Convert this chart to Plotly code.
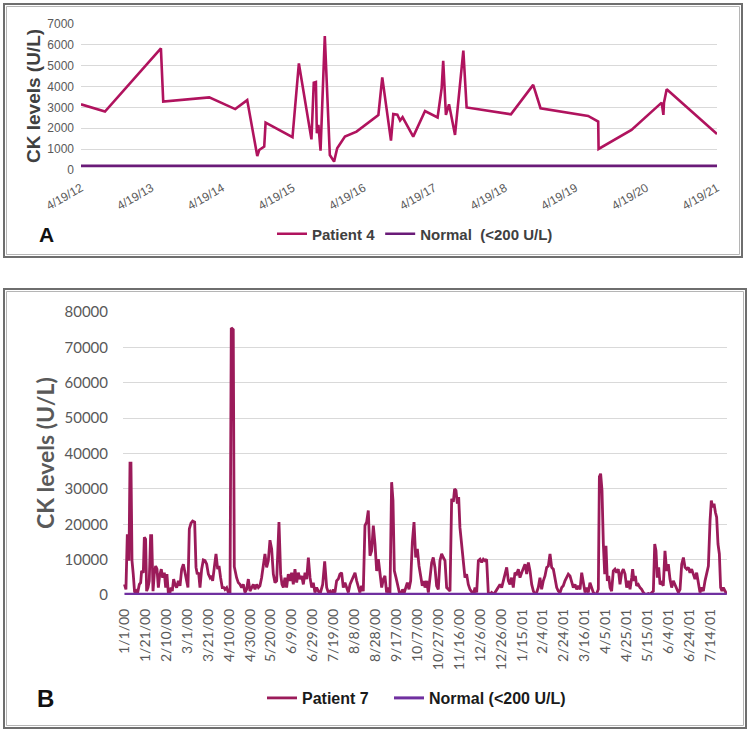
import plotly.graph_objects as go
from datetime import datetime, timedelta

# ---------------- Panel A data (Patient 4) ----------------
A_dates = [
    "2012-04-19", "2012-08-21", "2013-06-06", "2013-06-18", "2014-02-11",
    "2014-06-25", "2014-08-26", "2014-10-13", "2014-10-17", "2014-10-27",
    "2014-11-22", "2014-11-29", "2015-04-17", "2015-05-20", "2015-07-24",
    "2015-08-05", "2015-08-16", "2015-08-21", "2015-08-29", "2015-09-09",
    "2015-10-01", "2015-10-27", "2015-11-18", "2015-12-04", "2016-01-13",
    "2016-03-13", "2016-07-04", "2016-07-24", "2016-09-07", "2016-09-19",
    "2016-10-10", "2016-10-24", "2016-11-06", "2016-12-31", "2017-03-02",
    "2017-05-06", "2017-05-27", "2017-06-04", "2017-06-18", "2017-07-04",
    "2017-08-04", "2017-09-16", "2017-10-03", "2018-05-20", "2018-09-12",
    "2018-10-20", "2019-06-23", "2019-08-14", "2019-08-16", "2020-02-02",
    "2020-07-07", "2020-07-16", "2020-07-19", "2020-08-02", "2021-04-19",
]
A_ck = [
    3150, 2800, 5830, 3280, 3480,
    2920, 3350, 770, 670, 960,
    1120, 2270, 1570, 5110, 1470,
    4190, 4220, 1760, 2160, 930,
    6420, 720, 400, 1040, 1600,
    1840, 2640, 4440, 1410, 2680,
    2650, 2370, 2530, 1600, 2830,
    2520, 3920, 5240, 2640, 3150,
    1680, 5720, 3000, 2670, 4080,
    2960, 2590, 2320, 1010, 1920,
    3230, 2640, 3230, 3870, 1730,
]
A_tick_labels = ["4/19/12", "4/19/13", "4/19/14", "4/19/15", "4/19/16",
                 "4/19/17", "4/19/18", "4/19/19", "4/19/20", "4/19/21"]

# ---------------- Panel B data (Patient 7) ----------------
# days elapsed since 1/1/00
B_day = [
    0.0, 0.5, 1.4, 2.7, 3.7, 4.3, 5.3, 6.2, 7.2, 8.4,
    9.7, 11.0, 12.3, 14.2, 15.5, 16.4, 18.0, 19.0, 20.2, 21.2,
    22.5, 23.7, 25.0, 26.0, 27.3, 28.5, 29.8, 31.1, 32.4, 33.6,
    35.2, 36.5, 38.1, 39.4, 40.6, 41.9, 43.2, 44.5, 45.7, 47.0,
    48.3, 49.9, 51.5, 53.1, 54.7, 56.3, 57.9, 59.4, 60.7, 62.0,
    63.6, 65.2, 67.1, 68.4, 69.6, 70.9, 72.2, 73.8, 75.4, 77.0,
    78.6, 80.2, 81.8, 83.0, 84.3, 85.9, 87.5, 89.1, 90.4, 91.9,
    93.5, 95.1,
    96.1, 97.7, 99.3, 100.9, 101.5, 102.1, 104.0, 105.0, 107.2, 108.8,
    110.4, 112.0, 113.6, 115.2, 116.8, 118.4, 120.0, 121.6, 123.2, 124.8,
    126.4, 128.0, 129.5, 131.1, 132.7, 134.3, 135.9, 137.5, 139.1, 140.7,
    142.3, 143.9, 145.5, 147.7, 149.3, 150.6, 151.9, 153.4, 155.0, 156.6,
    158.2, 159.8, 161.4, 163.0, 164.6, 166.2, 167.8, 169.4, 171.0, 172.6,
    174.2, 175.8, 177.4, 179.0, 180.5, 182.1, 183.7, 185.3, 186.9,
    189.5, 191.4, 193.3, 194.9, 196.5, 198.1, 199.6, 201.2, 202.8, 204.4,
    206.0, 207.6, 209.2, 210.8, 212.4, 214.0, 215.6, 217.2, 218.8, 220.4,
    222.0, 223.6, 225.1, 226.7, 228.3, 229.9, 231.5, 233.1, 234.7, 236.3,
    237.9, 239.5, 241.1, 242.7, 244.3, 245.9, 247.5, 249.0, 250.6, 252.2,
    253.8, 255.4, 256.7, 258.0, 259.6, 261.2, 262.8, 264.3, 265.9, 267.5,
    269.1, 270.4, 272.0, 273.6, 275.2, 276.8, 278.4, 280.0, 281.6, 283.1,
    284.7, 286.3,
    287.3, 288.9, 290.5, 292.1, 293.7, 295.2, 296.8, 298.4, 300.0, 301.6,
    303.2, 304.8, 306.4, 308.0, 309.6, 311.2, 312.8, 314.4, 315.6, 316.9,
    318.2, 319.5, 320.7, 322.3, 323.9, 325.5, 327.1, 328.7, 330.3, 331.9,
    333.5, 335.1, 336.7, 338.3, 339.9, 341.5, 343.1, 344.6, 346.2, 347.8,
    349.4, 351.0, 352.6, 354.2, 355.8, 357.4, 359.0, 360.6, 362.2, 363.8,
    365.4, 367.0, 368.5, 370.1, 371.7, 373.3, 374.9, 376.5, 378.1, 379.7,
    381.3, 382.9,
    384.5, 386.1, 387.7, 389.3, 390.9, 392.4, 394.0, 395.6, 397.2, 398.8,
    400.4, 402.0, 403.6, 405.2, 406.8, 408.4, 410.0, 411.6, 413.2, 414.8,
    416.4, 418.0, 419.5, 421.1, 422.7, 424.3, 425.9, 427.5, 429.1, 430.7,
    432.3, 433.9, 435.5, 437.1, 438.7, 440.3, 441.9, 443.4, 445.0, 446.6,
    448.2, 449.8, 451.4, 453.0, 454.0, 455.2, 456.5, 457.8, 459.1, 460.3,
    461.6, 462.9, 464.2, 465.7, 467.3, 468.9, 470.5, 472.1, 473.7, 475.3,
    476.9, 478.5,
    480.1, 481.7, 483.3, 484.9, 485.8, 487.1, 488.4, 489.6, 491.2, 492.8,
    494.4, 496.0, 497.6, 499.2, 500.8, 502.4, 504.0, 505.6, 506.9, 508.1,
    509.4, 510.7, 512.0, 513.5, 515.1, 516.7, 518.3, 519.9, 521.5, 523.1,
    524.7, 526.3, 527.9, 529.5, 531.1, 532.7, 534.3, 535.9, 537.5, 539.0,
    540.6, 542.2, 543.8, 545.4, 547.0, 548.6, 550.2, 551.8, 553.4, 555.0,
    556.6, 558.2, 559.8, 561.0, 562.3, 563.6, 564.9, 566.1, 567.4, 568.7,
    569.9, 571.2, 572.5, 574.1, 575.7,
]
B_ck = [
    3000, 2100, 1600, 16800, 16800, 9700, 37300, 37300, 9700, 5900,
    700, 1100, 200, 3000, 3500, 6800, 6300, 16300, 15800, 1100,
    2100, 4000, 16800, 16800, 1100, 5900, 8200, 7300, 2100, 5400,
    7300, 4900, 6300, 2100, 5900, 700, 200, 2100, 1100, 4500,
    3000, 2100, 4000, 2600, 7300, 8700, 5900, 4500, 2100, 18700,
    20300, 20900, 20600, 7800, 5900, 6300, 2100, 7300, 9900, 9700,
    8700, 5900, 4900, 5400, 4000, 7800, 11600, 7300, 8200, 4900,
    2100, 2100,
    1600, 2100, 700, 200, 64000, 75500, 75000, 8000, 4900, 3500,
    3000, 2100, 3000, 700, 1600, 4500, 1100, 2100, 3000, 1600,
    3000, 2100, 2600, 4900, 8200, 11600, 7800, 9700, 15500, 13000,
    5900, 3500, 4000, 20600, 5900, 3000, 2100, 4900, 2100, 5900,
    4000, 6300, 3000, 7300, 3500, 6300, 4500, 5400, 3000, 6300,
    4500, 10600, 4900, 2100, 3500, 700, 2100, 1100, 200,
    3000, 9500, 2100, 700, 1100, 200, 1600, 700, 4000, 4500,
    5900, 6300, 2100, 3500, 2100, 700, 3000, 4000, 5400, 6300,
    4000, 2100, 700, 2600, 1100, 19600, 20600, 23900, 11100, 12500,
    19600, 14400, 6800, 10100, 6800, 2100, 4500, 5400, 700, 2100,
    200, 31900, 26700, 6800, 4900, 2600, 700, 200, 1600, 700,
    2100, 3500, 1600, 4000, 14900, 20600, 10600, 13000, 8200, 5900,
    2600, 4000,
    2100, 4000, 700, 4900, 9200, 10600, 7800, 2600, 1600, 9700,
    11600, 10600, 9700, 2100, 1600, 1100, 27200, 26300, 30000, 29600,
    25800, 27700, 19100, 14400, 9700, 4900, 5900, 3000, 1600, 700,
    200, 2100, 700, 9700, 10100, 9200, 10100, 9700, 10100, 700,
    200, 700, 200, 700, 1600, 2100, 3000, 2100, 4000, 5900,
    7800, 4000, 3000, 4900, 2100, 6300, 5900, 7300, 4900, 6300,
    7800, 8700,
    5900, 9200, 6800, 3000, 1100, 200, 700, 2100, 4900, 1600,
    4000, 5400, 7800, 8200, 11600, 7800, 7300, 4000, 2100, 1100,
    700, 2100, 2600, 4000, 4900, 5900, 5400, 4000, 2100, 3000,
    1600, 2600, 1600, 6300, 4000, 700, 2100, 700, 3500, 2100,
    700, 200, 400, 1600, 33400, 34300, 29600, 14400, 5900, 13900,
    4000, 5400, 2100, 1100, 6800, 7300, 6300, 7300, 3000, 6300,
    7300, 5900,
    2100, 4000, 1600, 4900, 7300, 4000, 5400, 2600, 3000, 2100,
    1600, 700, 200, 200, 400, 200, 700, 1100, 14400, 12500,
    4900, 7800, 3000, 3500, 2600, 12500, 6800, 8700, 4500, 2100,
    4000, 3000, 1600, 700, 1600, 8700, 10600, 7800, 7300, 7800,
    6300, 7300, 5900, 4500, 6300, 4000, 700, 2100, 1100, 4000,
    6300, 8200, 21000, 26700, 24800, 25800, 23400, 22000, 14400, 11600,
    2100, 1100, 2100, 1100, 200,
]
B_tick_labels = ["1/1/00", "1/21/00", "2/10/00", "3/1/00", "3/21/00", "4/10/00",
                 "4/30/00", "5/20/00", "6/9/00", "6/29/00", "7/19/00", "8/8/00",
                 "8/28/00", "9/17/00", "10/7/00", "10/27/00", "11/16/00", "12/6/00",
                 "12/26/00", "1/15/01", "2/4/01", "2/24/01", "3/16/01", "4/5/01",
                 "4/25/01", "5/15/01", "6/4/01", "6/24/01", "7/14/01"]
NORMAL_CK = 200

# ---------------- helpers ----------------
W, H = 750, 737
def fx(p):
    return p / W
def fy(p):
    return 1 - p / H

a_ticks = [datetime.strptime(t, "%m/%d/%y") for t in A_tick_labels]
b_ticks = [datetime.strptime(t, "%m/%d/%y") for t in B_tick_labels]
b0 = b_ticks[0]
b_x = [b0 + timedelta(days=d) for d in B_day]

AR = "Liberation Sans"
GREY = "#595959"

fig = go.Figure()
fig.add_trace(go.Scatter(x=A_dates, y=A_ck, mode="lines", name="Patient 4",
                         line=dict(color="#b0135e", width=2.6),
                         xaxis="x", yaxis="y", legend="legend"))
fig.add_trace(go.Scatter(x=[a_ticks[0], a_ticks[-1]], y=[NORMAL_CK, NORMAL_CK],
                         mode="lines", name="Normal  (<200 U/L)",
                         line=dict(color="#6a1b78", width=2.6),
                         xaxis="x", yaxis="y", legend="legend"))
fig.add_trace(go.Scatter(x=b_x, y=B_ck, mode="lines", name="Patient 7",
                         line=dict(color="#9b1b5a", width=2.8),
                         xaxis="x2", yaxis="y2", legend="legend2"))
fig.add_trace(go.Scatter(x=[b_x[0], b_x[-1]], y=[NORMAL_CK, NORMAL_CK],
                         mode="lines", name="Normal (<200 U/L)",
                         line=dict(color="#7030a0", width=3),
                         xaxis="x2", yaxis="y2", legend="legend3"))

fig.update_layout(
    width=W, height=H,
    margin=dict(l=0, r=0, t=0, b=0),
    paper_bgcolor="white", plot_bgcolor="white",
    xaxis=dict(domain=[fx(81), fx(717)], anchor="y", type="date",
               range=[a_ticks[0], a_ticks[-1]],
               tickmode="array", tickvals=a_ticks, ticktext=A_tick_labels,
               tickangle=-30, tickfont=dict(family=AR, size=12, color=GREY),
               showgrid=False, zeroline=False, showline=False, ticks="",
               ticklabelstandoff=8, automargin=False),
    yaxis=dict(domain=[fy(170), fy(24)], anchor="x", range=[0, 7000],
               tick0=0, dtick=1000, tickformat="d", gridcolor="#d9d9d9", gridwidth=1,
               tickfont=dict(family=AR, size=12, color=GREY),
               zeroline=False, showline=False, ticks="",
               ticklabelstandoff=6, automargin=False),
    xaxis2=dict(domain=[fx(123), fx(727)], anchor="y2", type="date",
                range=[b0 - timedelta(days=1.4), b0 + timedelta(days=576)],
                tickmode="array", tickvals=b_ticks, ticktext=B_tick_labels,
                tickangle=-90, tickfont=dict(family="Lato", size=14, color=GREY),
                showgrid=False, zeroline=False, showline=False, ticks="",
                ticklabelstandoff=10, automargin=False),
    yaxis2=dict(domain=[fy(595), fy(312)], anchor="x2", range=[0, 80000],
                tick0=0, dtick=10000, tickformat="d", gridcolor="#d9d9d9", gridwidth=1,
                tickfont=dict(family="Lato", size=15, color=GREY),
                zeroline=False, showline=False, ticks="",
                ticklabelstandoff=14, automargin=False),
    legend=dict(orientation="h", x=fx(272), y=fy(234), xanchor="left", yanchor="middle",
                font=dict(family=AR, size=15, color="#404040", weight="bold"),
                bgcolor="rgba(0,0,0,0)", traceorder="normal"),
    legend2=dict(orientation="h", x=fx(262), y=fy(698), xanchor="left", yanchor="middle",
                 font=dict(family=AR, size=16, color="#1a1a1a", weight="bold"),
                 bgcolor="rgba(0,0,0,0)"),
    legend3=dict(orientation="h", x=fx(389), y=fy(698), xanchor="left", yanchor="middle",
                 font=dict(family=AR, size=16, color="#1a1a1a", weight="bold"),
                 bgcolor="rgba(0,0,0,0)"),
    showlegend=True,
)

shapes = []
# panel A frame (double border)
shapes.append(dict(type="rect", xref="paper", yref="paper", x0=fx(4), x1=fx(742),
                   y0=fy(257), y1=fy(4), line=dict(color="#6e6e6e", width=2)))
shapes.append(dict(type="rect", xref="paper", yref="paper", x0=fx(6.5), x1=fx(739.5),
                   y0=fy(254.5), y1=fy(6.5), line=dict(color="#b5b5b5", width=1)))
# panel B frame (double border)
shapes.append(dict(type="rect", xref="paper", yref="paper", x0=fx(4), x1=fx(746),
                   y0=fy(728), y1=fy(289), line=dict(color="#6e6e6e", width=2)))
shapes.append(dict(type="rect", xref="paper", yref="paper", x0=fx(6.5), x1=fx(743.5),
                   y0=fy(725.5), y1=fy(291.5), line=dict(color="#b5b5b5", width=1)))
fig.update_layout(shapes=shapes)

annotations = [
    dict(text="A", x=fx(46), y=fy(234), xref="paper", yref="paper", showarrow=False,
         xanchor="center", yanchor="middle",
         font=dict(family=AR, size=21, color="#111111", weight="bold")),
    dict(text="B", x=fx(45), y=fy(698), xref="paper", yref="paper", showarrow=False,
         xanchor="center", yanchor="middle",
         font=dict(family=AR, size=24, color="#111111", weight="bold")),
    dict(text="CK levels (U/L)", x=fx(34), y=fy(96), xref="paper", yref="paper",
         showarrow=False, textangle=-90, xanchor="center", yanchor="middle",
         font=dict(family=AR, size=19, color="#404040", weight="bold")),
    dict(text="CK levels (U/L)", x=fx(45), y=fy(453), xref="paper", yref="paper",
         showarrow=False, textangle=-90, xanchor="center", yanchor="middle",
         font=dict(family="Lato", size=23, color=GREY, weight="bold")),
]
fig.update_layout(annotations=annotations)

fig.write_html("out.html")
